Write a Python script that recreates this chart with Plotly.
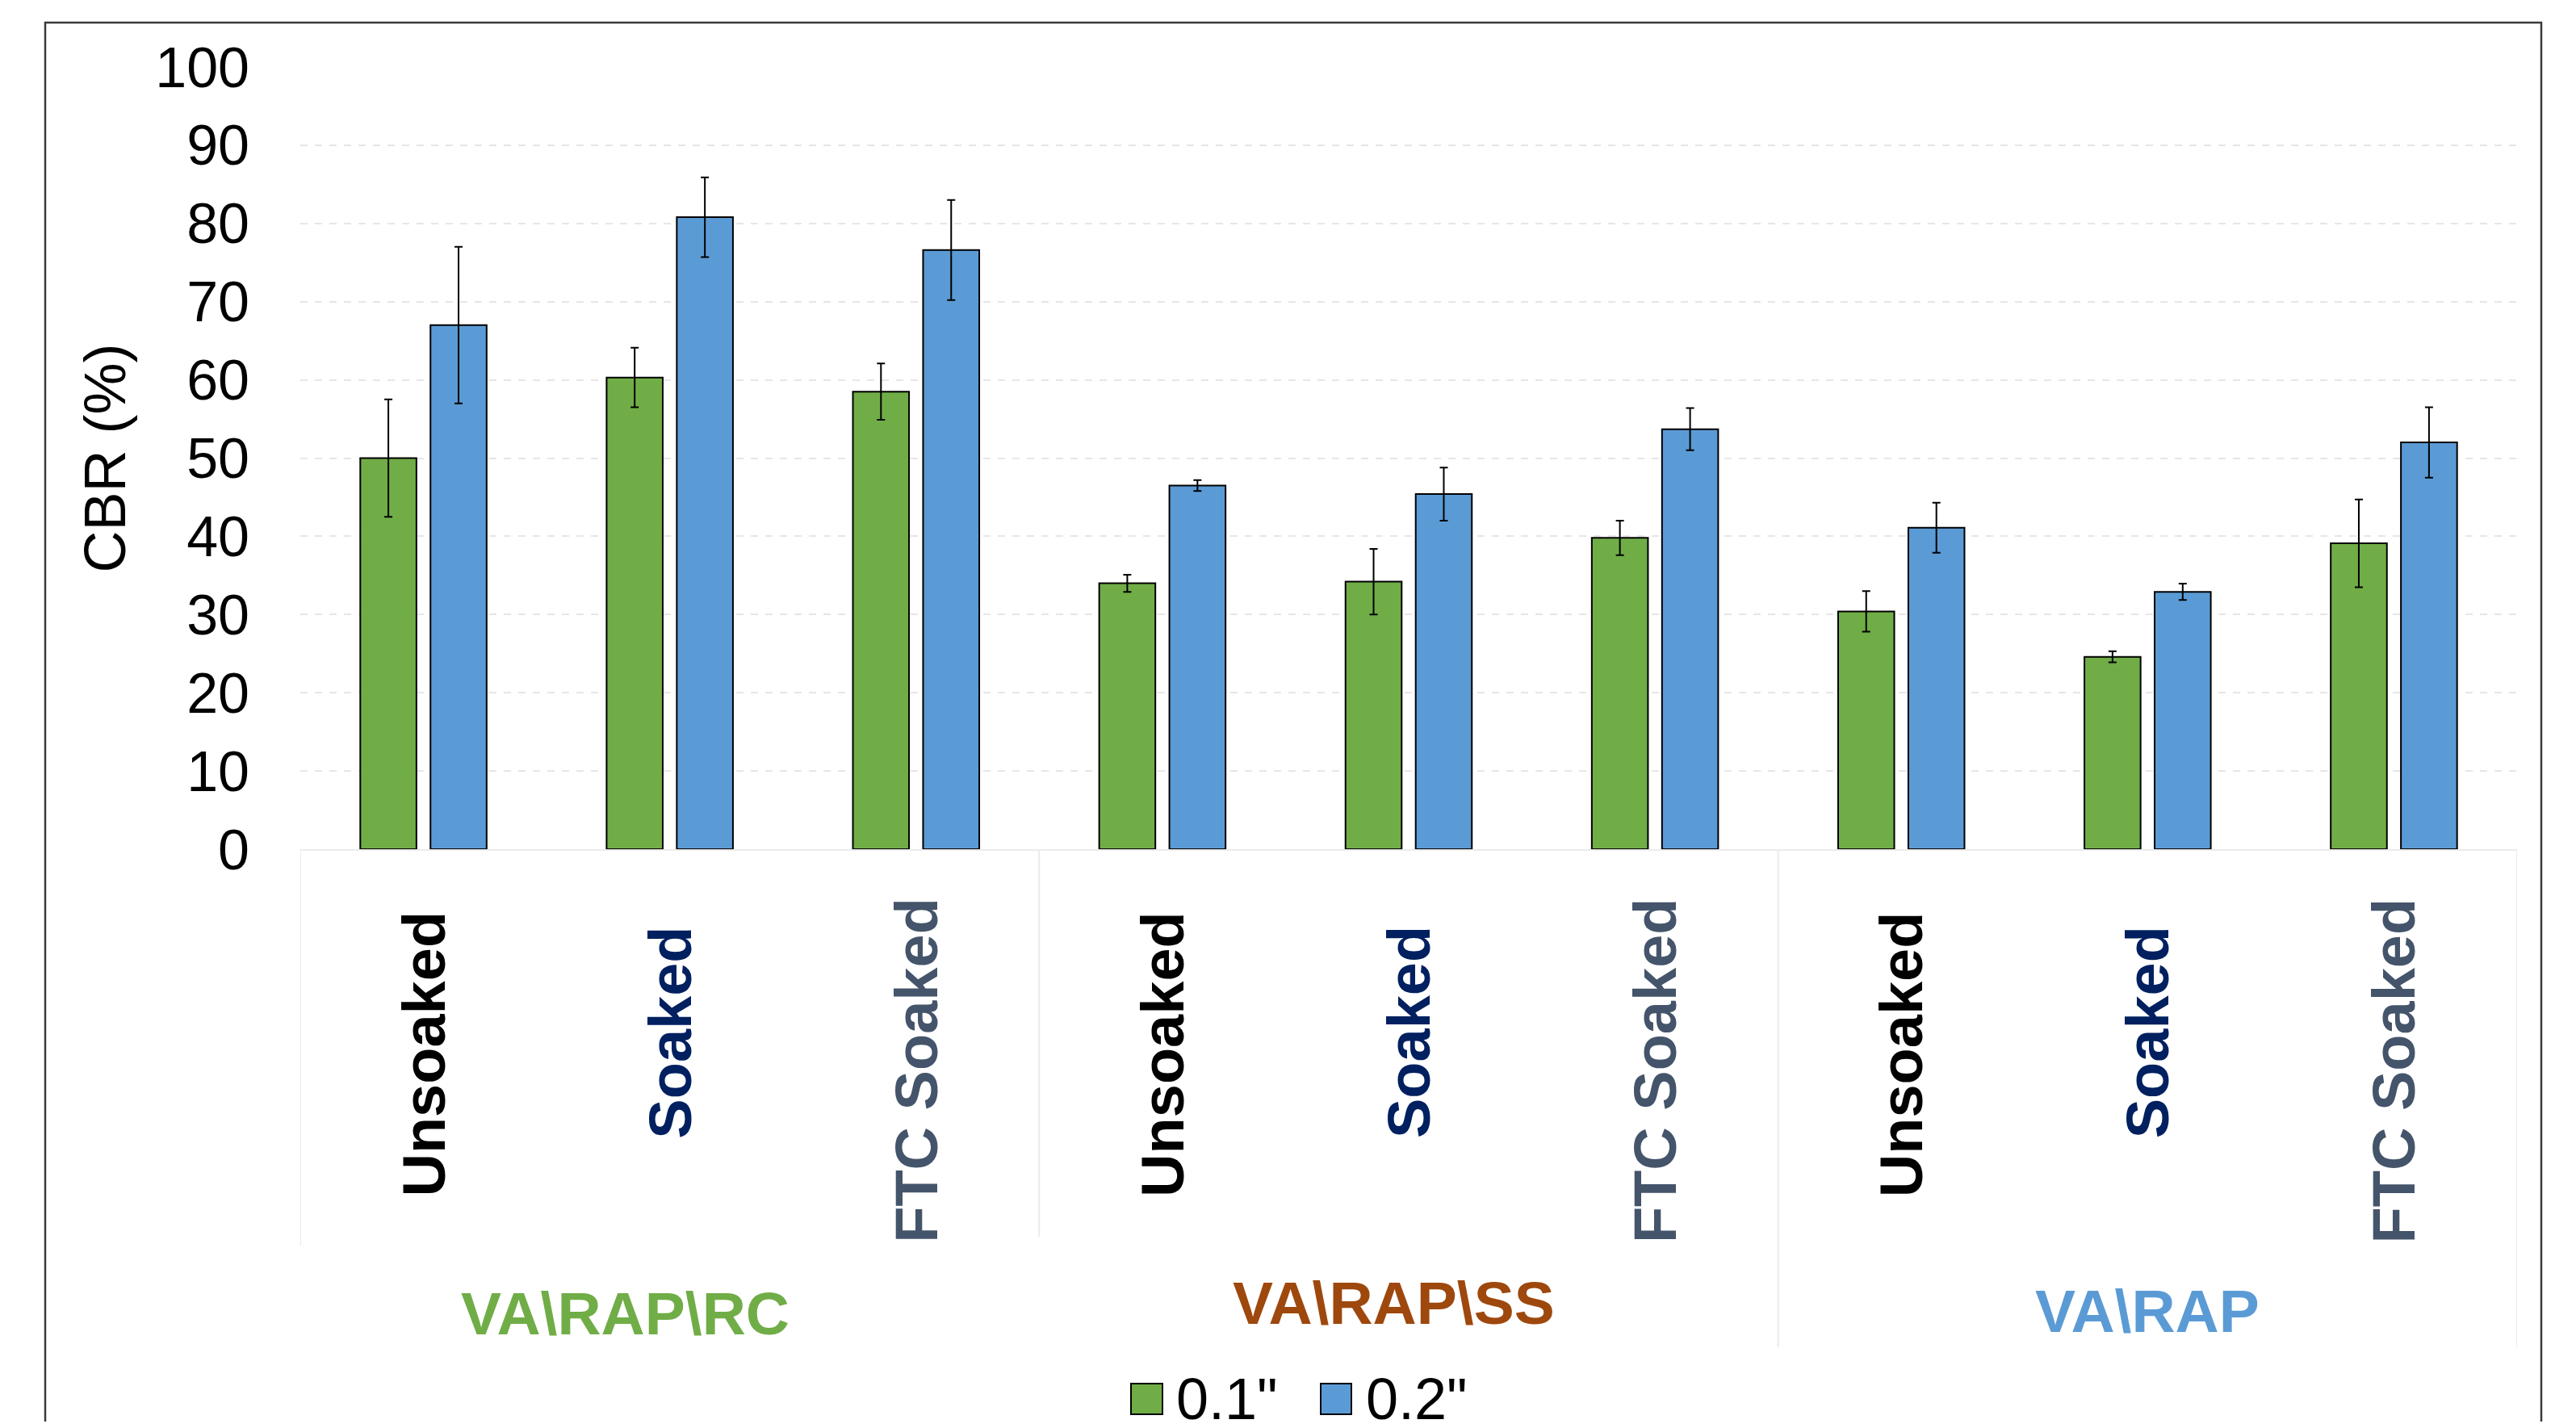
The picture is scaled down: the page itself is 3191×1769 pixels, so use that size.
import plotly.graph_objects as go

groups = ["VA\\RAP\\RC", "VA\\RAP\\SS", "VA\\RAP"]
conditions = ["Unsoaked", "Soaked", "FTC Soaked"]
series_names = ['0.1"', '0.2"']
cbr_01 = [50.0, 60.3, 58.5, 34.0, 34.2, 39.8, 30.4, 24.6, 39.1]
err_01 = [7.5, 3.8, 3.6, 1.1, 4.2, 2.2, 2.6, 0.7, 5.6]
cbr_02 = [67.0, 80.8, 76.6, 46.5, 45.4, 53.7, 41.1, 32.9, 52.0]
err_02 = [10.0, 5.1, 6.4, 0.7, 3.4, 2.7, 3.2, 1.05, 4.5]
y_ticks = [0, 10, 20, 30, 40, 50, 60, 70, 80, 90, 100]

GREEN = "#70AD47"
BLUE = "#5B9BD5"
FONT = "Liberation Sans, Arial, sans-serif"

# browser body margin (8px) is compensated so the page fits the window
OFF = 8
W, H = 3191 - 2 * OFF, 1769 - 2 * OFF
# plot area in screen pixels
PL, PR, PT, PB = 372, 3118, 83, 1052
PW, PH = PR - PL, PB - PT
L, T = PL - OFF, PT - OFF
R, B = W - L - PW, H - T - PH


def px_x(p):
    return (p - PL) / PW


def px_y(p):
    return (PB - p) / PH


cats = [f"{g} {c}" for g in groups for c in conditions]

fig = go.Figure()
for name, vals, errs, col in [(series_names[0], cbr_01, err_01, GREEN),
                              (series_names[1], cbr_02, err_02, BLUE)]:
    fig.add_trace(go.Bar(
        x=cats, y=vals, name=name,
        marker=dict(color=col, line=dict(color="black", width=2)),
        error_y=dict(type="data", array=errs, visible=True,
                     color="black", thickness=2, width=5),
        showlegend=False,
    ))

shapes = []
annotations = []

# outer chart border
shapes.append(dict(type="rect", xref="paper", yref="paper",
                   x0=px_x(56), x1=px_x(3148), y0=px_y(1900), y1=px_y(28),
                   line=dict(color="#3A3A3A", width=2.5), layer="below"))

# category table separators
for xpos, ybot in [(-0.5, 1543), (2.5, 1532), (5.5, 1669), (8.5, 1669)]:
    shapes.append(dict(type="line", xref="x", yref="paper",
                       x0=xpos, x1=xpos, y0=0, y1=px_y(ybot),
                       line=dict(color="#EBEBEB", width=2)))

# condition labels (rotated)
cond_colors = {"Unsoaked": "#000000", "Soaked": "#002060", "FTC Soaked": "#44546A"}
cond_ycenter = {"Unsoaked": 1306, "Soaked": 1279, "FTC Soaked": 1326}
for g in groups:
    for c in conditions:
        annotations.append(dict(
            x=f"{g} {c}", xref="x", y=px_y(cond_ycenter[c]), yref="paper",
            text=f"<b>{c}</b>", textangle=-90, showarrow=False,
            xanchor="center", yanchor="middle",
            font=dict(family=FONT, size=74, color=cond_colors[c])))

# group labels
group_colors = ["#70AD47", "#9E480E", "#5B9BD5"]
group_x = [0.82, 3.94, 7.0]
group_y = [1627, 1614, 1624]
for g, col, gx, gy in zip(groups, group_colors, group_x, group_y):
    annotations.append(dict(
        x=gx, xref="x", y=px_y(gy), yref="paper",
        text=f"<b>{g}</b>", showarrow=False,
        xanchor="center", yanchor="middle",
        font=dict(family=FONT, size=75, color=col)))

# custom legend
leg_y = 1733
for (sx0, sx1, tx), name, col in [((1401, 1440, 1455), series_names[0], GREEN),
                                  ((1636, 1674, 1690), series_names[1], BLUE)]:
    shapes.append(dict(type="rect", xref="paper", yref="paper",
                       x0=px_x(sx0), x1=px_x(sx1),
                       y0=px_y(leg_y + 19), y1=px_y(leg_y - 19),
                       fillcolor=col, line=dict(color="black", width=2)))
    annotations.append(dict(
        x=px_x(tx), xref="paper", y=px_y(leg_y), yref="paper",
        text=name, showarrow=False, xanchor="left", yanchor="middle",
        font=dict(family=FONT, size=72, color="black")))

fig.update_layout(
    width=W, height=H,
    margin=dict(l=L, r=R, t=T, b=B, pad=0),
    paper_bgcolor="white", plot_bgcolor="white",
    barmode="group", bargap=0.43, bargroupgap=0.2,
    font=dict(family=FONT, color="black"),
    shapes=shapes, annotations=annotations,
    xaxis=dict(showticklabels=False, ticks="", showgrid=False,
               showline=True, linecolor="#EBEBEB", linewidth=2,
               zeroline=False, range=[-0.5, 8.5]),
    yaxis=dict(range=[0, 100], tickvals=y_ticks, ticks="",
               tickfont=dict(family=FONT, size=70, color="black"),
               ticklabelstandoff=62,
               showgrid=True, gridcolor="#E6E6E6", gridwidth=2, griddash="dash",
               zeroline=False, showline=False,
               title=dict(text="CBR (%)", standoff=13,
                          font=dict(family=FONT, size=72, color="black"))),
)

fig.write_html("out.html")
